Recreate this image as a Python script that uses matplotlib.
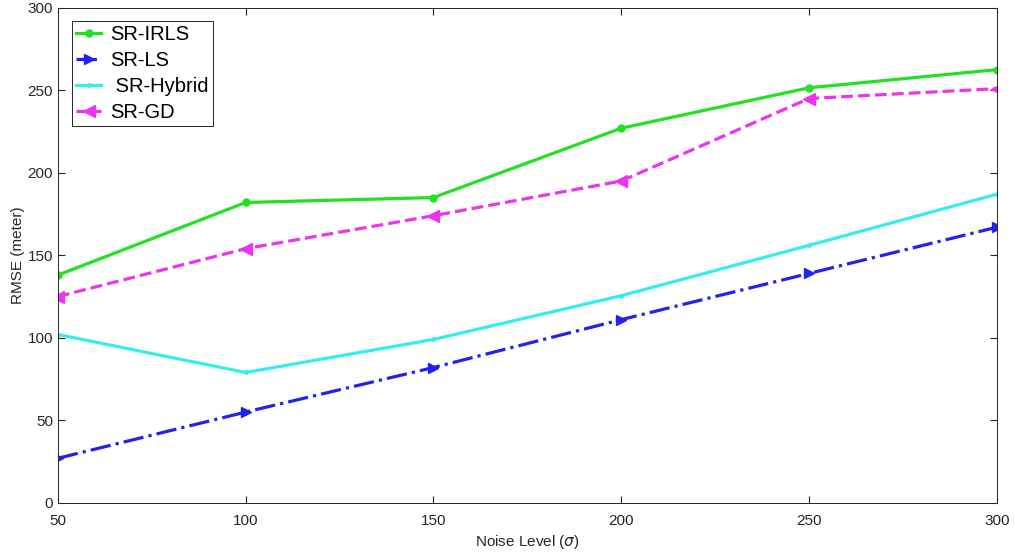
import matplotlib.pyplot as plt

plt.rcParams['font.family'] = ['Liberation Sans', 'DejaVu Sans']
plt.rcParams['mathtext.fontset'] = 'dejavusans'

noise = [50, 100, 150, 200, 250, 300]
irls = [138, 182, 185, 227, 251.5, 262.5]
ls = [27, 55, 82, 111, 139, 167]
hybrid = [102, 79, 99, 125.5, 156, 187]
gd = [125, 154, 174, 195, 245, 251]

fig = plt.figure(figsize=(10.15, 5.55), dpi=100)
ax = fig.add_axes([0.057, 0.094, 0.925, 0.892])

ax.plot(noise, irls, color='#22e022', lw=2.3, marker='o', ms=5, label='SR-IRLS')
ax.plot(noise, ls, color='#2222ee', lw=2.3, ls='-.', marker='>', ms=7, label='SR-LS')
ax.plot(noise, hybrid, color='#33eeee', lw=2.3, marker='.', ms=5, label=' SR-Hybrid')
ax.plot(noise, gd, color='#ee33ee', lw=2.3, ls='--', marker='<', ms=8, label='SR-GD')

ax.set_xlim(50, 300)
ax.set_ylim(0, 300)
ax.set_xticks(noise)
ax.set_yticks(range(0, 301, 50))
ax.tick_params(direction='in', length=5, colors='#262626', labelsize=11,
               top=True, right=True)
ax.tick_params(axis='x', pad=8)
for s in ax.spines.values():
    s.set_color('#262626')
    s.set_linewidth(0.7)

ax.set_xlabel(r'Noise Level ($\sigma$)', fontsize=11, color='#262626', labelpad=4)
ax.set_ylabel('RMSE (meter)', fontsize=11, color='#262626', labelpad=2)

leg = ax.legend(loc='upper left', bbox_to_anchor=(0.011, 0.982), fontsize=14.5,
                fancybox=False, framealpha=1, edgecolor='#262626', numpoints=1,
                handlelength=1.25, handletextpad=0.45, borderpad=0.2,
                labelspacing=0.35, borderaxespad=0.2)
leg.get_frame().set_linewidth(0.7)

fig.savefig('out.png', dpi=100)
